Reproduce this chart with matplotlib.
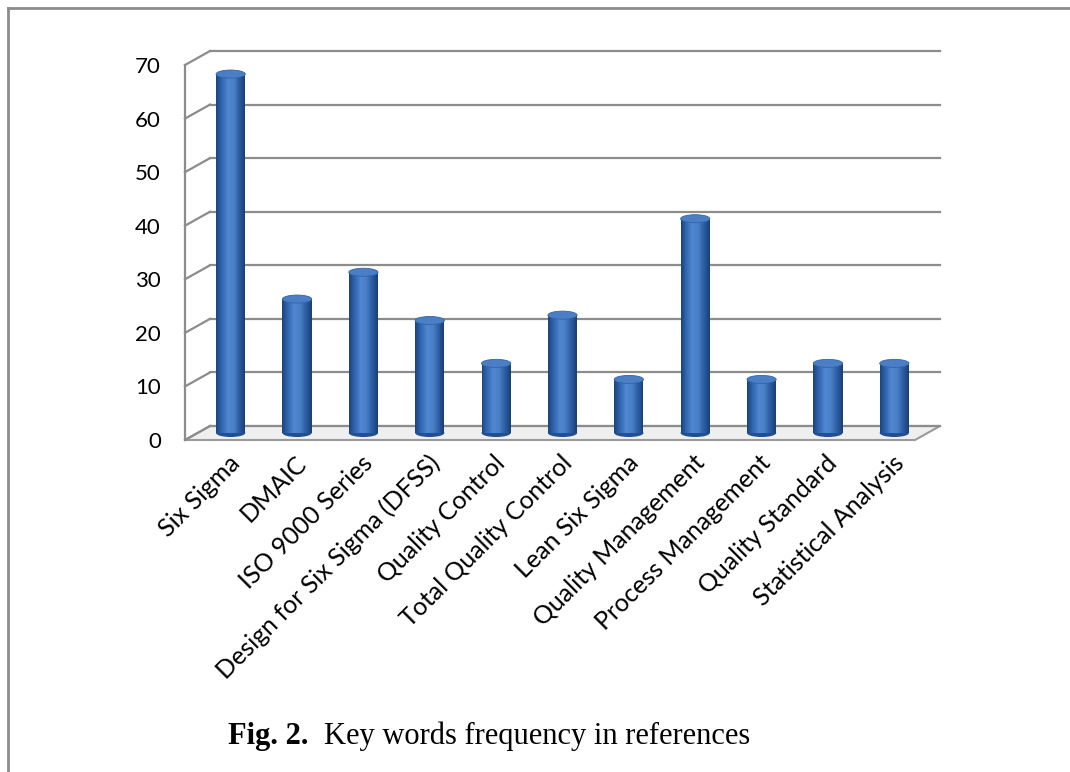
import matplotlib
matplotlib.use("Agg")
import matplotlib.pyplot as plt
import numpy as np
from matplotlib.transforms import offset_copy, IdentityTransform
from matplotlib.patches import Ellipse, Polygon
from matplotlib.lines import Line2D
from matplotlib.colors import LinearSegmentedColormap

categories = ["Six Sigma", "DMAIC", "ISO 9000 Series", "Design for Six Sigma (DFSS)",
              "Quality Control", "Total Quality Control", "Lean Six Sigma",
              "Quality Management", "Process Management", "Quality Standard",
              "Statistical Analysis"]
frequency = [67, 25, 30, 21, 13, 22, 10, 40, 10, 13, 13]
y_ticks = [0, 10, 20, 30, 40, 50, 60, 70]

W, H, DPI = 1070, 772, 100
fig = plt.figure(figsize=(W / DPI, H / DPI), dpi=DPI)
fig.patch.set_facecolor("white")

# front plane of the 3-D box
ax = fig.add_axes([185 / W, (H - 440) / H, 730 / W, 375 / H])
ax.set_xlim(0, len(categories))
ax.set_ylim(y_ticks[0], y_ticks[-1])
ax.axis("off")

DEPTH = (25, 14)  # depth of the box in pixels (right, up)
back = offset_copy(ax.transData, fig=fig, x=DEPTH[0], y=DEPTH[1], units="dots")
mid = offset_copy(ax.transData, fig=fig, x=DEPTH[0] / 2, y=DEPTH[1] / 2, units="dots")
GRID = "#8c8c8c"


def proj(x, y, d):
    px, py = ax.transData.transform((x, y))
    return px + d * DEPTH[0], py + d * DEPTH[1]


n = len(categories)

# floor
floor = Polygon([proj(0, 0, 0), proj(n, 0, 0), proj(n, 0, 1), proj(0, 0, 1)],
                closed=True, transform=IdentityTransform(), facecolor="#efefef",
                edgecolor="#9a9a9a", lw=1.5, zorder=1, clip_on=False)
ax.add_patch(floor)

# back-wall gridlines and left-wall diagonals
for v in y_ticks:
    ax.plot([0, n], [v, v], transform=back, color=GRID, lw=1.6, zorder=1, clip_on=False)
    (x0, y0), (x1, y1) = proj(0, v, 0), proj(0, v, 1)
    ax.add_line(Line2D([x0, x1], [y0, y1], transform=IdentityTransform(),
                       color=GRID, lw=1.6, zorder=1, clip_on=False))
ax.plot([0, 0], [y_ticks[0], y_ticks[-1]], color=GRID, lw=1.6, zorder=1, clip_on=False)

# y tick labels
tick_tr = offset_copy(ax.transData, fig=fig, x=-24, y=-2, units="dots")
for v in y_ticks:
    ax.text(0, v, str(v), transform=tick_tr, ha="right", va="center",
            fontsize=16, family="Lato", color="black")

# cylinders
cmap = LinearSegmentedColormap.from_list(
    "cyl", ["#1d4681", "#3268b3", "#4f86cf", "#4a80c8", "#2d5fa5", "#1a417a"])
bw = 0.44
cap_h = 1.5
n_strips = 30
for i, v in enumerate(frequency):
    xc = i + 0.5
    ax.add_patch(Ellipse((xc, 0), bw, cap_h, transform=mid, facecolor="#21508f",
                         edgecolor="none", zorder=3, clip_on=False))
    edges = np.linspace(xc - bw / 2, xc + bw / 2, n_strips + 1)[:-1]
    widths = (xc + bw / 2) - edges
    ax.bar(edges, [v] * n_strips, width=widths, align="edge",
           color=cmap(np.linspace(0, 1, n_strips)), linewidth=0,
           transform=mid, zorder=4, clip_on=False)
    ax.add_patch(Ellipse((xc, v), bw, cap_h, transform=mid, facecolor="#4a7fc7",
                         edgecolor="#36649f", lw=0.6, zorder=5, clip_on=False))

# category labels
lab_tr = offset_copy(ax.transData, fig=fig, x=10, y=-11, units="dots")
for i, name in enumerate(categories):
    ax.text(i + 0.5, 0, name, transform=lab_tr, rotation=45, rotation_mode="anchor",
            ha="right", va="top", fontsize=18, family="Lato", color="black")

# page frame
fig.add_artist(Line2D([8 / W, 1], [1 - 8 / H, 1 - 8 / H], transform=fig.transFigure,
                      color=GRID, lw=2))
fig.add_artist(Line2D([8 / W, 8 / W], [1 - 8 / H, 0], transform=fig.transFigure,
                      color=GRID, lw=2))

# caption
renderer = fig.canvas.get_renderer()
t1 = fig.text(228 / W, 1 - 744 / H, "Fig. 2.", fontsize=22, fontweight="bold",
              family="Liberation Serif", ha="left", va="baseline")
bb = t1.get_window_extent(renderer)
fig.text((bb.x1 + 15) / W, 1 - 744 / H, "Key words frequency in references",
         fontsize=22, family="Liberation Serif", ha="left", va="baseline")

fig.savefig("out.png", dpi=DPI, facecolor="white")
